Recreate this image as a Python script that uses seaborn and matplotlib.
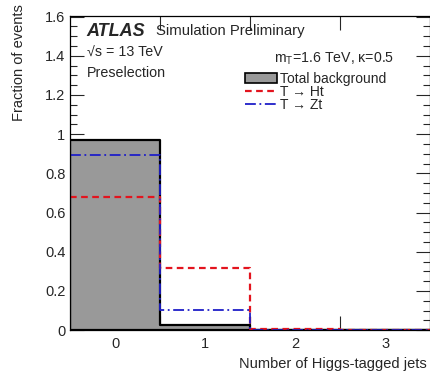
import numpy as np
import pandas as pd
import seaborn as sns
import matplotlib
matplotlib.use("Agg")
import matplotlib.pyplot as plt
from matplotlib.patches import Patch
from matplotlib.lines import Line2D
from matplotlib.ticker import MultipleLocator, FixedLocator, FuncFormatter

# Data
n_higgs = [0, 1, 2, 3]
bin_edges = [-0.5, 0.5, 1.5, 2.5, 3.5]
background = [0.972, 0.026, 0.002, 0.0]
t_to_ht = [0.678, 0.316, 0.006, 0.0]
t_to_zt = [0.894, 0.104, 0.002, 0.0]
x_ticklabels = ["0", "1", "2", "3"]

sns.set_style("white")
plt.rcParams['font.family'] = ['Liberation Sans', 'DejaVu Sans']
plt.rcParams['mathtext.fontset'] = 'custom'
plt.rcParams['mathtext.rm'] = 'Liberation Sans'
plt.rcParams['mathtext.it'] = 'Liberation Sans:italic'

df = pd.DataFrame({"n": n_higgs, "bkg": background, "ht": t_to_ht, "zt": t_to_zt})

W, H = 431, 371
fig = plt.figure(figsize=(W / 100, H / 100), dpi=100)
ax = fig.add_axes([0.163, 0.110, 0.835, 0.848])

def fx(px):
    return px / W

def fy(py):
    return 1 - py / H

sns.histplot(data=df, x="n", weights="bkg", bins=bin_edges, element="step", fill=True,
             color="#999999", alpha=1.0, edgecolor="black", linewidth=1.6, ax=ax)
sns.histplot(data=df, x="n", weights="ht", bins=bin_edges, element="step", fill=False,
             color="#e3141e", linewidth=1.6, linestyle=(0, (3, 2)), ax=ax)
sns.histplot(data=df, x="n", weights="zt", bins=bin_edges, element="step", fill=False,
             color="#1f1fc8", linewidth=1.3, linestyle=(0, (6, 2, 1, 2)), ax=ax)

ax.set_xlim(-0.5, 3.5)
ax.set_ylim(0, 1.605)

ax.xaxis.set_major_locator(FixedLocator([0.5, 1.5, 2.5]))
ax.xaxis.set_major_formatter(FuncFormatter(lambda v, p: ""))
ax.set_xticks(n_higgs, minor=True)
ax.set_xticklabels(x_ticklabels, minor=True)
ax.tick_params(axis="x", which="major", direction="in", length=10, width=0.8, top=True, bottom=True)
ax.tick_params(axis="x", which="minor", length=0, labelsize=10.5, pad=5)

ax.yaxis.set_major_locator(MultipleLocator(0.2))
ax.yaxis.set_minor_locator(MultipleLocator(0.05))
ax.yaxis.set_major_formatter(FuncFormatter(lambda v, p: "%g" % round(v, 2)))
ax.tick_params(axis="y", which="major", direction="in", length=10, width=0.8, left=True, right=True, labelsize=10.5)
ax.tick_params(axis="y", which="minor", direction="in", length=5, width=0.8, left=True, right=True)

for s in ax.spines.values():
    s.set_color("black")
    s.set_linewidth(0.9)

ax.set_xlabel("Number of Higgs-tagged jets", fontsize=10.5, ha="right", x=0.99, labelpad=4)
ax.set_ylabel("Fraction of events", fontsize=10.5, ha="right", y=1.035, labelpad=14)

fig.text(fx(86), fy(31), "ATLAS", fontsize=13, fontweight="bold", fontstyle="italic", va="center")
fig.text(fx(156), fy(31), "Simulation Preliminary", fontsize=10.7, va="center")
fig.text(fx(87), fy(53), "√s = 13 TeV", fontsize=10.3, va="center")
fig.text(fx(87), fy(73), "Preselection", fontsize=10.3, va="center")
fig.text(fx(274), fy(59), r"m$_\mathrm{T}$=1.6 TeV, κ=0.5", fontsize=10.2, va="center")

handles = [Patch(facecolor="#999999", edgecolor="black", linewidth=1.2),
           Line2D([], [], color="#e3141e", linewidth=1.6, linestyle=(0, (3, 2))),
           Line2D([], [], color="#1f1fc8", linewidth=1.3, linestyle=(0, (6, 2, 1, 2)))]
labels = ["Total background", "T → Ht", "T → Zt"]
ax.legend(handles, labels, loc="upper left", bbox_to_anchor=(fx(245), fy(72)),
          bbox_transform=fig.transFigure, frameon=False,
          fontsize=10, handlelength=2.3, handleheight=0.65, labelspacing=-0.08, handletextpad=0.25,
          borderpad=0.0, borderaxespad=0.0)

fig.savefig("out.png", dpi=100)
